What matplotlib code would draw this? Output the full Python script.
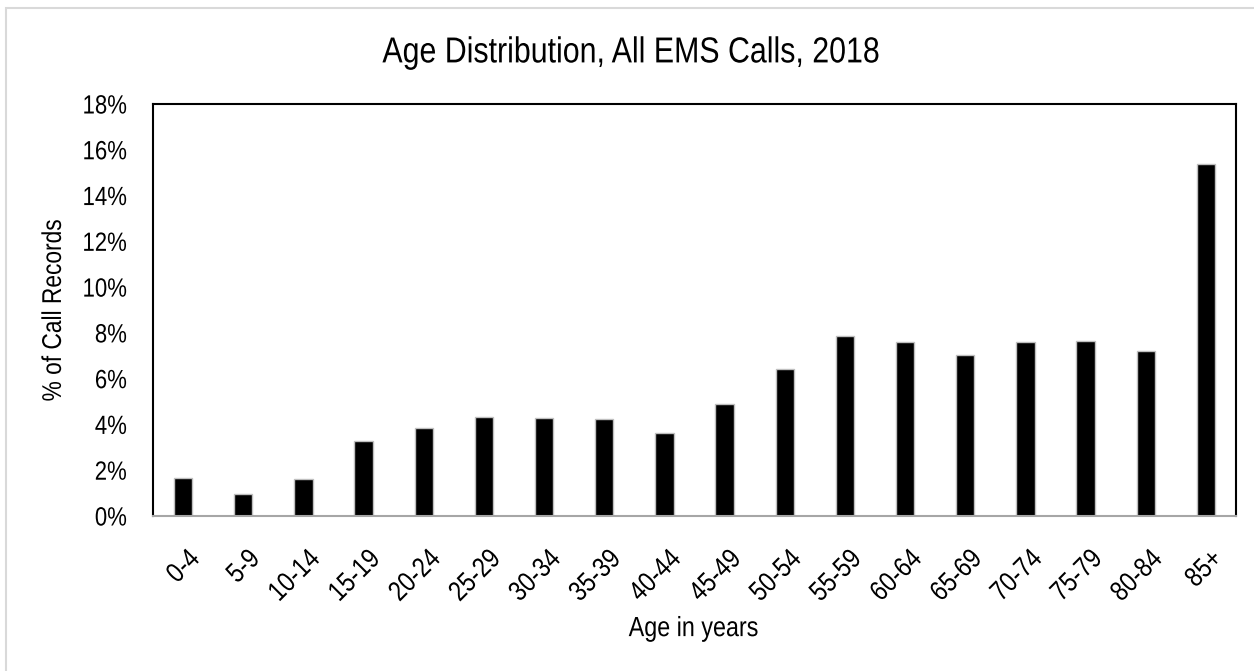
import matplotlib.pyplot as plt
import matplotlib.patches as patches
from matplotlib.patheffects import AbstractPathEffect
from matplotlib.ticker import FuncFormatter
from matplotlib.transforms import Affine2D, ScaledTranslation

plt.rcParams['font.family'] = ['Liberation Sans', 'DejaVu Sans']

# Data (% of call records per age group)
age_groups = ['0-4', '5-9', '10-14', '15-19', '20-24', '25-29', '30-34', '35-39', '40-44',
              '45-49', '50-54', '55-59', '60-64', '65-69', '70-74', '75-79', '80-84', '85+']
pct_calls = [1.67, 0.95, 1.60, 3.26, 3.83, 4.31, 4.28, 4.24, 3.62,
             4.88, 6.43, 7.85, 7.61, 7.02, 7.60, 7.63, 7.21, 15.40]
y_ticks = [0, 2, 4, 6, 8, 10, 12, 14, 16, 18]


class Condense(AbstractPathEffect):
    """Squeeze glyphs along the text direction (narrow-font look)."""

    def __init__(self, sx=0.84, frac=0.0):
        super().__init__()
        self.sx = sx
        self.frac = frac

    def draw_path(self, renderer, gc, tpath, affine, rgbFace=None):
        w = tpath.get_extents().x1
        pre = Affine2D().scale(self.sx, 1).translate((1 - self.sx) * w * self.frac, 0)
        renderer.draw_path(gc, tpath, pre + affine, rgbFace)


fig = plt.figure(figsize=(12.54, 6.71), dpi=100)
ax = fig.add_axes([0.122, 0.231, 0.8636, 0.614])

# light gray frame round the chart
fig.patches.append(patches.Rectangle((0.005, -0.01), 1.2, 0.998, transform=fig.transFigure,
                                     fill=False, edgecolor='#d9d9d9', linewidth=1.5))

x = range(len(age_groups))
ax.bar(x, pct_calls, width=0.305, color='black', edgecolor='#bfbfbf', linewidth=1)

ax.set_xlim(-0.5, len(age_groups) - 0.5)
ax.set_ylim(0, 18)
ax.set_yticks(y_ticks)
ax.yaxis.set_major_formatter(FuncFormatter(lambda v, p: f'{v:.0f}%'))
ax.set_xticks(list(x))
ax.set_xticklabels(age_groups, rotation=45, ha='right', va='center', rotation_mode='anchor')
ax.tick_params(axis='both', length=0, labelsize=19)
ax.tick_params(axis='x', labelsize=20, pad=0)
ax.tick_params(axis='y', pad=18.7)

for lab in ax.get_yticklabels():
    lab.set_path_effects([Condense(frac=1.0)])
shift = ScaledTranslation(0.13, -0.39, fig.dpi_scale_trans)
for lab in ax.get_xticklabels():
    lab.set_path_effects([Condense(frac=1.0)])
    lab.set_transform(lab.get_transform() + shift)

for side in ['left', 'top', 'right']:
    ax.spines[side].set_color('black')
    ax.spines[side].set_linewidth(1.5)
ax.spines['bottom'].set_color('#a6a6a6')
ax.spines['bottom'].set_linewidth(1.5)

fig.text(0.503, 0.907, 'Age Distribution, All EMS Calls, 2018', ha='center', va='baseline',
         fontsize=26, path_effects=[Condense(frac=0.5)])
fig.text(0.553, 0.052, 'Age in years', ha='center', va='baseline', fontsize=20,
         path_effects=[Condense(frac=0.5)])
fig.text(0.043, 0.538, '% of Call Records', ha='center', va='center', rotation=90, fontsize=19.5,
         path_effects=[Condense(frac=0.5)])

fig.savefig('out.png', dpi=100)
